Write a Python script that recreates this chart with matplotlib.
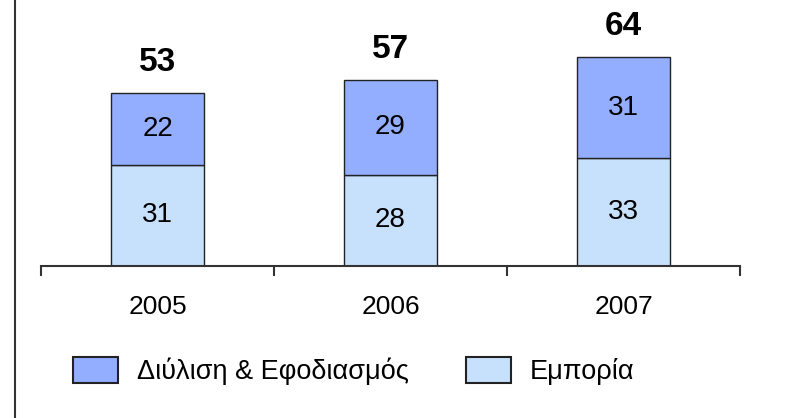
import matplotlib
matplotlib.use("Agg")
import matplotlib.pyplot as plt
from matplotlib.lines import Line2D

plt.rcParams['font.family'] = ['Liberation Sans', 'DejaVu Sans']

years = ['2005', '2006', '2007']
emporia = [31, 28, 33]
diylisi = [22, 29, 31]
totals = [53, 57, 64]
series_names = ['Διύλιση & Εφοδιασμός', 'Εμπορία']
color_dark = '#93AEFF'
color_light = '#C7E0FB'

W, H = 796, 418
fig = plt.figure(figsize=(W / 100, H / 100), dpi=100)
ax = fig.add_axes([41 / W, (H - 266) / H, (740 - 41) / W, 266 / H])

x = list(range(len(years)))
bw = 0.40
b1 = ax.bar(x, emporia, width=bw, color=color_light, edgecolor='#222222', linewidth=1.0,
            label=series_names[1], zorder=2)
b2 = ax.bar(x, diylisi, width=bw, bottom=emporia, color=color_dark, edgecolor='#222222',
            linewidth=1.0, label=series_names[0], zorder=2)

for i in x:
    ax.text(i, emporia[i] / 2, str(emporia[i]), ha='center', va='center', fontsize=20)
    ax.text(i, emporia[i] + diylisi[i] / 2, str(diylisi[i]), ha='center', va='center', fontsize=20)
    ax.annotate(str(totals[i]), (i, totals[i]), xytext=(0, 11), textcoords='offset points',
                ha='center', va='bottom', fontsize=24, fontweight='bold')

ax.set_xlim(-0.5, 2.5)
ax.set_ylim(0, 81.6)
for s in ['top', 'right', 'left']:
    ax.spines[s].set_visible(False)
ax.spines['bottom'].set_color('#333333')
ax.spines['bottom'].set_linewidth(1.5)
ax.set_yticks([])
ax.set_xticks(x)
ax.set_xticklabels(years, fontsize=19)
ax.tick_params(axis='x', which='major', length=0, pad=21)
ax.set_xticks([-0.5, 0.5, 1.5, 2.5], minor=True)
ax.tick_params(axis='x', which='minor', length=7, width=1.5, color='#333333', direction='out')

leg = fig.legend(handles=[b2, b1], labels=series_names, loc='center left',
                 bbox_to_anchor=(73 / W, (H - 371) / H), ncol=2, frameon=False,
                 fontsize=19.5, handlelength=1.66, handleheight=1.12, handletextpad=0.7,
                 columnspacing=2.1, borderpad=0, borderaxespad=0)
for h in leg.legend_handles:
    h.set_edgecolor('#222222')
    h.set_linewidth(1.5)

fig.add_artist(Line2D([15 / W, 15 / W], [0, 1], transform=fig.transFigure, color='#333333', lw=1.5))

fig.savefig('out.png', dpi=100)
